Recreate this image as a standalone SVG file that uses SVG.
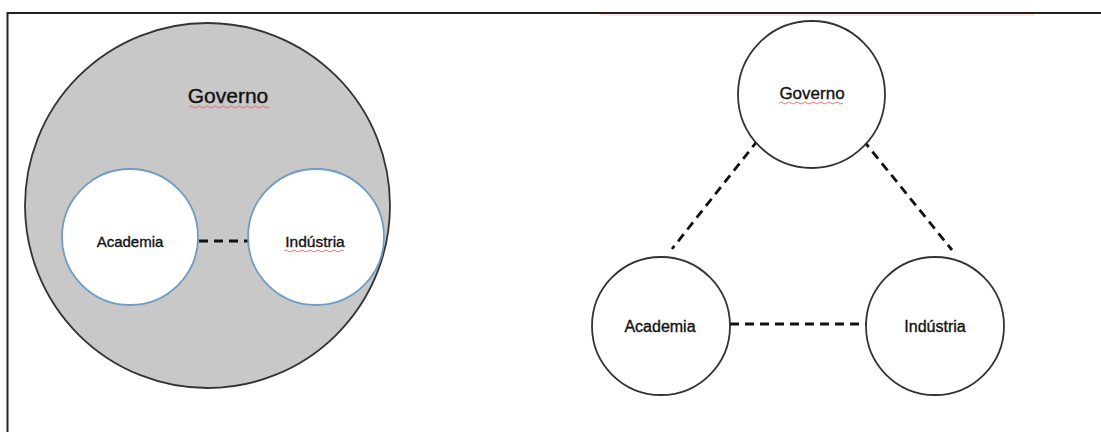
<svg xmlns="http://www.w3.org/2000/svg" width="1101" height="432" viewBox="0 0 1101 432">
<style>
.lbl{font-family:"Liberation Sans",Arial,sans-serif;fill:#111;stroke:#111;stroke-width:0.35;text-anchor:middle}
.dash{stroke:#111;stroke-width:2.8;stroke-dasharray:9,6;fill:none}
.node{fill:#fff;stroke:#333;stroke-width:1.8}
.inner{fill:#fff;stroke:#6f9cc6;stroke-width:1.8}
.sq{fill:none;stroke:#e06a6a;stroke-width:0.9}
</style>
<rect width="1101" height="432" fill="#fff"/>
<g id="frame">
<line x1="7" y1="13" x2="1101" y2="13" stroke="#222" stroke-width="2"/>
<line x1="7.5" y1="12" x2="7.5" y2="432" stroke="#222" stroke-width="2"/>
<line x1="600" y1="15" x2="1034" y2="15" stroke="#f6d3c6" stroke-width="1"/>
</g>
<g id="governo-left">
<circle cx="207.5" cy="205.5" r="182.5" fill="#c8c8c8" stroke="#333" stroke-width="1.8"/>
<text class="lbl" x="228" y="103" font-size="21">Governo</text>
<path class="sq" d="M189,107 q2,-2 4,0 t4,0 t4,0 t4,0 t4,0 t4,0 t4,0 t4,0 t4,0 t4,0 t4,0 t4,0 t4,0 t4,0 t4,0 t4,0 t4,0 t4,0 t4,0 t4,0"/>
</g>
<g id="connectors">
<line class="dash" x1="199" y1="241" x2="248" y2="241" stroke-dasharray="8,5"/>
<line class="dash" x1="730" y1="324" x2="866" y2="324"/>
<line class="dash" x1="758" y1="140" x2="672" y2="249"/>
<line class="dash" x1="863" y1="140" x2="952" y2="250"/>
</g>
<g id="academia-left">
<circle class="inner" cx="130" cy="237" r="68"/>
<text class="lbl" x="130" y="247" font-size="15">Academia</text>
</g>
<g id="industria-left">
<circle class="inner" cx="316" cy="237" r="68"/>
<text class="lbl" x="315" y="247" font-size="15.5">Indústria</text>
<path class="sq" d="M284,251 q2,-2 4,0 t4,0 t4,0 t4,0 t4,0 t4,0 t4,0 t4,0 t4,0 t4,0 t4,0 t4,0 t4,0 t4,0 t4,0"/>
</g>
<g id="governo-right">
<circle class="node" cx="811.5" cy="94.5" r="73.5"/>
<text class="lbl" x="812" y="99" font-size="17">Governo</text>
<path class="sq" d="M779,103 q2,-2 4,0 t4,0 t4,0 t4,0 t4,0 t4,0 t4,0 t4,0 t4,0 t4,0 t4,0 t4,0 t4,0 t4,0 t4,0 t4,0"/>
</g>
<g id="academia-right">
<circle class="node" cx="661" cy="326" r="69"/>
<text class="lbl" x="660" y="332" font-size="16">Academia</text>
</g>
<g id="industria-right">
<circle class="node" cx="935" cy="326" r="69"/>
<text class="lbl" x="935" y="332" font-size="16">Indústria</text>
</g>
</svg>
